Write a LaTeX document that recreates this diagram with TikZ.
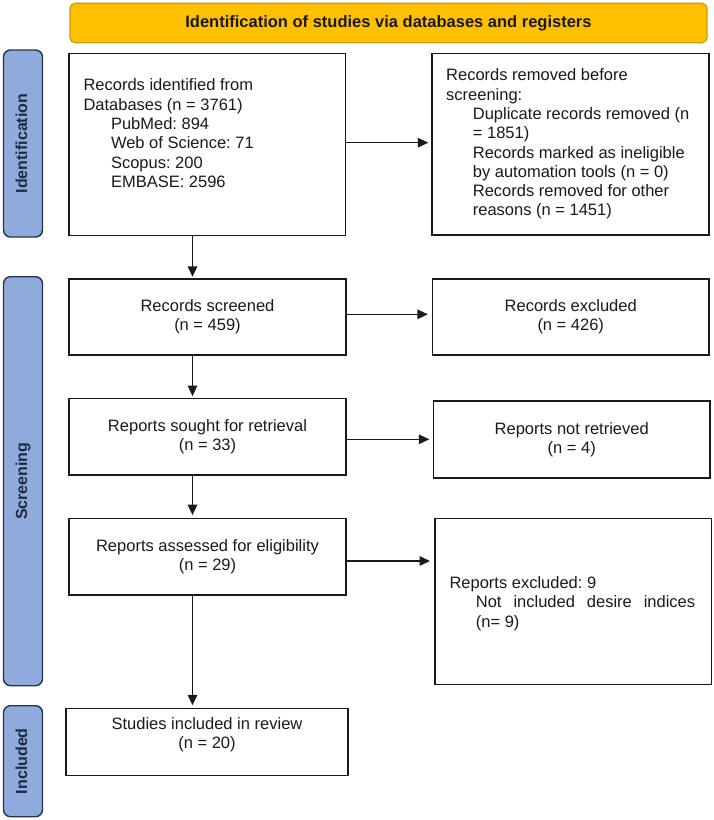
\documentclass[tikz,border=0pt]{standalone}
\usepackage{fontspec}
\setmainfont{Liberation Sans}
\usetikzlibrary{arrows.meta}
\definecolor{bannerfill}{HTML}{FFC000}
\definecolor{bannerdraw}{HTML}{C89A10}
\definecolor{barfill}{HTML}{8FAADC}
\definecolor{bardraw}{HTML}{25324D}
\definecolor{bartext}{HTML}{1F2A44}
\definecolor{inkc}{HTML}{1A1A1A}
\frenchspacing
\begin{document}
\begin{tikzpicture}[x=1pt,y=-1pt,
  bodyfont/.style={font=\fontsize{16.5}{19.3}\selectfont\frenchspacing, text=inkc},
  box/.style={draw=inkc, line width=1.4pt, fill=white, rectangle, inner sep=0pt, bodyfont, align=center},
  txt/.style={bodyfont, inner sep=0pt, align=left, anchor=north west},
  sidebar/.style={draw=bardraw, line width=1.4pt, fill=barfill, rounded corners=7pt, rotate=90,
    inner sep=0pt, font=\fontsize{16}{19}\bfseries, text=bartext, text height=11.8pt, text depth=3.4pt},
  arr/.style={draw=inkc, line width=1.4pt, -{Triangle[length=10.5pt,width=9.5pt]}},
]
\useasboundingbox[fill=white] (0,0) rectangle (714,820);

% banner
\node[draw=bannerdraw, line width=1.2pt, fill=bannerfill, rounded corners=5pt,
      minimum width=637pt, minimum height=39.4pt, inner sep=0pt,
      font=\fontsize{16.5}{19}\bfseries, text=inkc, text height=12pt, text depth=3.5pt]
      (banner) at (388.5,23) {Identification of studies via databases and registers};

% side bars
\node[sidebar, minimum width=187pt, minimum height=39pt] (idbar) at (23,143.5) {Identification};
\node[sidebar, minimum width=409pt, minimum height=39pt] (scbar) at (23,481.2) {Screening};
\node[sidebar, minimum width=111pt, minimum height=39pt] (inbar) at (23,761.2) {Included};

% boxes
\node[box, minimum width=276.7pt, minimum height=182.4pt] (boxA) at (207.35,144.5) {};
\node[txt] (boxAtxt) at (83.3,78.7) {Records identified from\\Databases (n = 3761)\\
  \hspace*{27.5pt}PubMed: 894\\\hspace*{27.5pt}Web of Science: 71\\
  \hspace*{27.5pt}Scopus: 200\\\hspace*{27.5pt}EMBASE: 2596};

\node[box, minimum width=277pt, minimum height=181.7pt] (boxB) at (570.5,144.15) {};
\node[txt] (boxBtxt) at (446,68.7) {Records removed before\\screening:\\
  \hspace*{26.7pt}Duplicate records removed (n\\\hspace*{26.7pt}= 1851)\\
  \hspace*{26.7pt}Records marked as ineligible\\\hspace*{26.7pt}by automation tools (n = 0)\\
  \hspace*{26.7pt}Records removed for other\\\hspace*{26.7pt}reasons (n = 1451)};

\node[box, minimum width=277pt, minimum height=76pt] (boxC) at (207.5,317) {Records screened\\(n = 459)};
\node[box, minimum width=276.5pt, minimum height=76pt] (boxC2) at (570.75,317) {Records excluded\\(n = 426)};

\node[box, minimum width=277pt, minimum height=76.7pt] (boxD) at (207.5,436.65) {Reports sought for retrieval\\(n = 33)};
\node[box, minimum width=276.5pt, minimum height=77pt] (boxD2) at (571.75,439.5) {Reports not retrieved\\(n = 4)};

\node[box, minimum width=277pt, minimum height=76.7pt] (boxE) at (207.5,556.65) {Reports assessed for eligibility\\(n = 29)};
\node[box, minimum width=276.5pt, minimum height=166pt] (boxE2) at (573.25,601.3) {};
\node[txt] (boxE2txt) at (449.3,576.3) {Reports excluded: 9\\
  \hspace*{26.4pt}\makebox[219.3pt][s]{Not included desire indices}\\
  \hspace*{26.4pt}(n= 9)};

\node[box, minimum width=282pt, minimum height=67.4pt] (boxF) at (207,742) {};
\node[bodyfont, inner sep=0pt, align=center, anchor=north] (boxFtxt) at (207,717.5) {Studies included in review\\(n = 20)};

% arrow helper coordinates
\coordinate (col) at (192.5,0);
\coordinate (rowA) at (0,142.7);
\coordinate (rowC) at (0,314.3);
\coordinate (rowD) at (0,439.3);
\coordinate (rowE) at (0,561);

% vertical arrows
\draw[arr, shorten >=1.5pt] (boxA.south -| col) -- (boxC.north -| col);
\draw[arr, shorten >=1.5pt] (boxC.south -| col) -- (boxD.north -| col);
\draw[arr, shorten >=2.5pt] (boxD.south -| col) -- (boxE.north -| col);
\draw[arr, shorten >=2.3pt] (boxE.south -| col) -- (boxF.north -| col);

% horizontal arrows
\draw[arr, shorten >=3pt] (boxA.east |- rowA) -- (boxB.west |- rowA);
\draw[arr, shorten >=4pt] (boxC.east |- rowC) -- (boxC2.west |- rowC);
\draw[arr, shorten >=3.5pt] (boxD.east |- rowD) -- (boxD2.west |- rowD);
\draw[arr, shorten >=4.3pt] (boxE.east |- rowE) -- (boxE2.west |- rowE);
\end{tikzpicture}
\end{document}
